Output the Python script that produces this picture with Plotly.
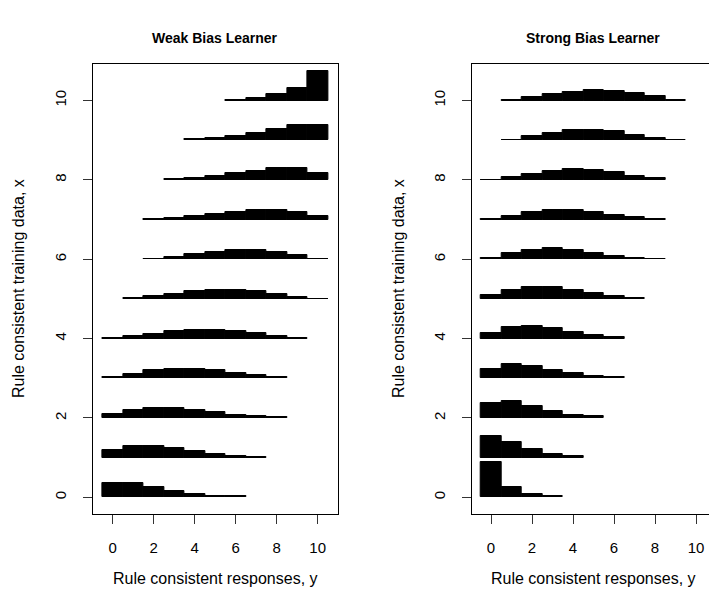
import plotly.graph_objects as go

# ---------------- data ----------------
rows = list(range(11))                      # rule consistent training data, x
tick_vals = [0, 2, 4, 6, 8, 10]
tick_text = ["0", "2", "4", "6", "8", "10"]

# first response value (y) of each row's distribution
weak_start = [0, 0, 0, 0, 0, 1, 2, 2, 3, 4, 6]
weak_probs = [
    [.284, .284, .206, .123, .065, .032, .019],
    [.148, .226, .226, .181, .123, .077, .039, .013],
    [.071, .155, .200, .200, .161, .116, .065, .039, .013],
    [.019, .090, .155, .187, .187, .161, .103, .065, .019],
    [.006, .045, .097, .142, .174, .174, .142, .103, .052, .013],
    [.013, .065, .103, .161, .181, .181, .148, .097, .045, .006],
    [.013, .052, .103, .142, .174, .174, .135, .077, .013],
    [.006, .032, .071, .110, .155, .187, .187, .148, .071],
    [.013, .032, .071, .123, .174, .226, .226, .135],
    [.019, .039, .077, .129, .206, .284, .284],
    [.019, .052, .123, .245, .561],
]

strong_start = [0, 0, 0, 0, 0, 0, 0, 0, 0, 1, 1]
strong_probs = [
    [.677, .206, .071, .026],
    [.426, .310, .161, .077, .032],
    [.290, .323, .226, .129, .065, .032],
    [.181, .271, .245, .168, .097, .045, .019],
    [.116, .226, .245, .200, .135, .071, .032],
    [.071, .174, .226, .226, .174, .110, .052, .019],
    [.032, .116, .187, .213, .187, .129, .071, .032, .013],
    [.006, .071, .142, .187, .187, .148, .097, .052, .013],
    [.006, .058, .116, .174, .206, .187, .142, .084, .032],
    [.013, .077, .135, .187, .194, .168, .103, .045, .013],
    [.013, .058, .123, .168, .200, .187, .142, .084, .019],
]

titles = ["Weak Bias Learner", "Strong Bias Learner"]
x_title = "Rule consistent responses, y"
y_title = "Rule consistent training data, x"

SCALE = 1.31  # vertical size of a probability of 1, in units of x

# ---------------- figure ----------------
W, H = 709, 600
FONT = "Liberation Sans, Arial, Helvetica, sans-serif"


def flatten(starts, probs):
    xs, hs, bs = [], [], []
    for r, s, ps in zip(rows, starts, probs):
        for i, p in enumerate(ps):
            xs.append(s + i)
            hs.append(p * SCALE)
            bs.append(r)
    return xs, hs, bs


fig = go.Figure()
for k, (starts, probs) in enumerate([(weak_start, weak_probs), (strong_start, strong_probs)]):
    xs, hs, bs = flatten(starts, probs)
    fig.add_trace(go.Bar(
        x=xs, y=hs, base=bs, width=1,
        marker=dict(color="black", line=dict(color="black", width=1)),
        xaxis="x" if k == 0 else "x2", yaxis="y" if k == 0 else "y2",
        showlegend=False, hoverinfo="skip",
    ))

px_unit = 20.5
left0 = [93.4, 471.7]
zero_px = [112.7, 491.0]
right_px = [337.5, 709.0]
xranges = []
for k in range(2):
    lo = (left0[k] - zero_px[k]) / px_unit
    hi = (right_px[k] - zero_px[k]) / px_unit
    xranges.append([lo, hi])

ydom = [1 - 514 / H, 1 - 64 / H]
yrange = [-0.42, 10.92]

axis_common = dict(
    showgrid=False, zeroline=False, showline=True, linecolor="black", linewidth=1,
    ticks="outside", ticklen=9, tickwidth=1, tickcolor="#333",
    tickvals=tick_vals, ticktext=tick_text,
    tickfont=dict(family=FONT, size=15, color="black"),
)

fig.update_layout(
    width=W, height=H, margin=dict(l=0, r=0, t=0, b=0),
    paper_bgcolor="white", plot_bgcolor="white",
    barmode="overlay", bargap=0,
    xaxis=dict(domain=[left0[0] / W, right_px[0] / W], range=xranges[0], mirror=True,
               anchor="y", ticklabelstandoff=11, **axis_common),
    yaxis=dict(domain=ydom, range=yrange, mirror=True, anchor="x", tickangle=-90,
               ticklabelstandoff=11, **axis_common),
    xaxis2=dict(domain=[left0[1] / W, 1.0], range=xranges[1], mirror=True,
                anchor="y2", ticklabelstandoff=11, **axis_common),
    yaxis2=dict(domain=ydom, range=yrange, mirror=False, anchor="x2", tickangle=-90,
                ticklabelstandoff=11, **axis_common),
)

centers = [(left0[0] + right_px[0]) / 2, (471.7 + 715.0) / 2]
ann = []
for k in range(2):
    ann.append(dict(text="<b>" + titles[k] + "</b>", x=centers[k] / W, y=1 - 38 / H,
                    xref="paper", yref="paper", showarrow=False, xanchor="center", yanchor="middle",
                    font=dict(family=FONT, size=14, color="black")))
    ann.append(dict(text=x_title, x=centers[k] / W, y=1 - 578 / H,
                    xref="paper", yref="paper", showarrow=False, xanchor="center", yanchor="middle",
                    font=dict(family=FONT, size=16, color="black")))
    ann.append(dict(text=y_title, x=[18, 398][k] / W, y=1 - 289 / H, textangle=-90,
                    xref="paper", yref="paper", showarrow=False, xanchor="center", yanchor="middle",
                    font=dict(family=FONT, size=16, color="black")))
fig.update_layout(annotations=ann)

fig.write_html("out.html")
